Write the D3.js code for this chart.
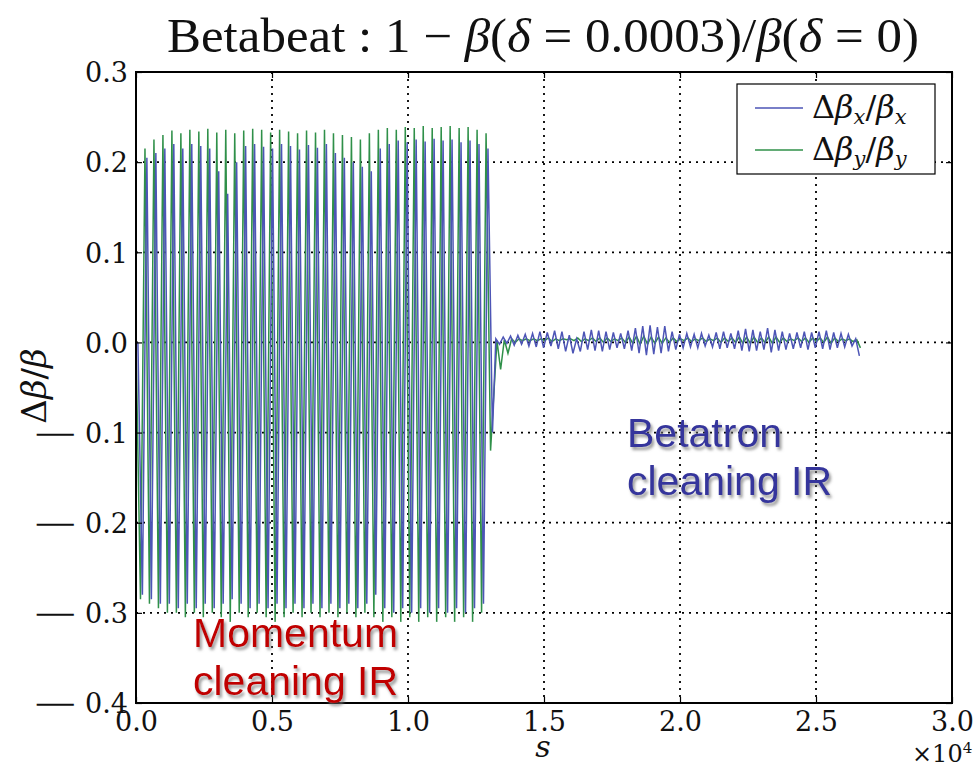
<!DOCTYPE html>
<html>
<head>
<meta charset="utf-8">
<script src="https://cdn.jsdelivr.net/npm/d3@7"></script>
<style>
  body { margin: 0; background: #fff; }
</style>
</head>
<body>
<script>
/*
  Betabeat plot
  -------------
  Two series (x and y plane), sampled at their extremes.
  Momentum region: big oscillation, betatron region: small wiggles.
*/

// axis ticks
var xTicks = [0, 5000, 10000, 15000, 20000, 25000, 30000];
var yTicks = [0.3, 0.2, 0.1, 0.0, -0.1, -0.2, -0.3, -0.4];

// sample grid of the momentum region (s start, step) and of the betatron region
var bigStart = 0, bigStep = 165, blueShift = 70;
var smallStart = 13230, smallStep = 135;

// delta beta_x / beta_x, momentum region (peaks and troughs)
var blueBig = [
  0.0, -0.28, 0.205, -0.285, 0.21, -0.29, 0.215, -0.29, 0.22, -0.295,
  0.215, -0.29, 0.22, -0.295, 0.218, -0.29, 0.215, -0.295, 0.19, -0.29,
  0.165, -0.285, 0.20, -0.29, 0.218, -0.295, 0.22, -0.29, 0.217, -0.295,
  0.215, -0.29, 0.22, -0.295, 0.218, -0.29, 0.214, -0.295, 0.219, -0.29,
  0.216, -0.295, 0.22, -0.29, 0.21, -0.295, 0.205, -0.29, 0.20, -0.295,
  0.195, -0.29, 0.19, -0.28, 0.215, -0.295, 0.22, -0.30, 0.224, -0.295,
  0.222, -0.30, 0.225, -0.295, 0.223, -0.30, 0.226, -0.295, 0.224, -0.30,
  0.225, -0.295, 0.222, -0.30, 0.224, -0.295, 0.22, -0.29, 0.215, -0.10
];

// delta beta_y / beta_y, momentum region
var greenBig = [
  0.0, -0.285, 0.215, -0.29, 0.225, -0.295, 0.23, -0.30, 0.235, -0.30,
  0.232, -0.305, 0.236, -0.30, 0.234, -0.305, 0.237, -0.30, 0.233, -0.305,
  0.236, -0.31, 0.232, -0.30, 0.235, -0.305, 0.237, -0.30, 0.236, -0.305,
  0.233, -0.31, 0.236, -0.305, 0.234, -0.30, 0.232, -0.305, 0.235, -0.30,
  0.233, -0.305, 0.236, -0.30, 0.232, -0.305, 0.230, -0.30, 0.228, -0.305,
  0.225, -0.30, 0.232, -0.305, 0.236, -0.31, 0.238, -0.305, 0.236, -0.31,
  0.239, -0.305, 0.238, -0.31, 0.240, -0.305, 0.238, -0.31, 0.239, -0.305,
  0.240, -0.31, 0.238, -0.305, 0.239, -0.31, 0.236, -0.30, 0.232, -0.12
];

// betatron region, small wiggles
var blueSmall = [
  0.004, -0.002, 0.006, -0.001, 0.007, -0.003, 0.008, -0.002, 0.009, -0.004,
  0.010, -0.005, 0.012, -0.006, 0.011, -0.004, 0.013, -0.007, 0.012, -0.010,
  0.008, -0.012, 0.004, -0.010, 0.012, -0.008, 0.014, -0.009, 0.013, -0.010,
  0.012, -0.008, 0.011, -0.006, 0.010, -0.007, 0.013, -0.009, 0.016, -0.012,
  0.018, -0.014, 0.019, -0.013, 0.017, -0.012, 0.018, -0.010, 0.012, -0.008,
  0.009, -0.006, 0.010, -0.005, 0.009, -0.006, 0.010, -0.004, 0.008, -0.005,
  0.011, -0.007, 0.012, -0.006, 0.010, -0.007, 0.013, -0.009, 0.015, -0.010,
  0.014, -0.009, 0.012, -0.008, 0.016, -0.011, 0.014, -0.009, 0.012, -0.008,
  0.010, -0.007, 0.011, -0.006, 0.012, -0.008, 0.011, -0.006, 0.012, -0.007,
  0.013, -0.008, 0.011, -0.006, 0.010, -0.005, 0.009, -0.004, 0.004, -0.015
];

var greenSmall = [
  0.002, -0.030, 0.003, -0.012, 0.004, 0.000, 0.004, 0.002, 0.004, 0.002,
  0.004, 0.002, 0.004, 0.002, 0.005, 0.001, 0.004, 0.002, 0.004, 0.003,
  0.004, 0.002, 0.005, 0.001, 0.004, 0.002, 0.005, 0.001, 0.005, 0.000,
  0.005, 0.001, 0.004, 0.002, 0.005, 0.000, 0.006, -0.001, 0.007, -0.002,
  0.007, -0.002, 0.006, -0.001, 0.006, -0.001, 0.005, 0.000, 0.005, 0.001,
  0.004, 0.002, 0.005, 0.001, 0.004, 0.002, 0.005, 0.001, 0.004, 0.002,
  0.005, 0.000, 0.005, 0.001, 0.005, 0.000, 0.006, -0.001, 0.006, -0.001,
  0.006, 0.000, 0.005, 0.000, 0.006, -0.001, 0.006, 0.000, 0.005, 0.001,
  0.004, 0.002, 0.005, 0.001, 0.005, 0.000, 0.005, 0.001, 0.005, 0.000,
  0.006, -0.001, 0.005, 0.001, 0.004, 0.002, 0.004, 0.001, 0.003, -0.006
];

/*
  SVG Setup
  ---------
*/
var width = 978, height = 768;
var margin = { top: 72, right: 26, bottom: 65, left: 136 };
var plotW = width - margin.left - margin.right;
var plotH = height - margin.top - margin.bottom;

var blue = "#4d55b6";
var green = "#2f9049";
var serif = "DejaVu Serif, serif";

var svg = d3.select("body").append("svg")
  .attr("width", width)
  .attr("height", height);

var defs = svg.append("defs");
var shadow = defs.append("filter").attr("id", "shadow")
  .attr("x", "-10%").attr("y", "-20%").attr("width", "130%").attr("height", "150%");
shadow.append("feDropShadow")
  .attr("dx", 2).attr("dy", 3).attr("stdDeviation", 1.6)
  .attr("flood-color", "#777").attr("flood-opacity", 0.75);
defs.append("clipPath").attr("id", "clip")
  .append("rect").attr("width", plotW).attr("height", plotH);

var g = svg.append("g")
  .attr("transform", "translate(" + margin.left + "," + margin.top + ")");

var x = d3.scaleLinear().domain([0, 30000]).range([0, plotW]);
var y = d3.scaleLinear().domain([-0.4, 0.3]).range([plotH, 0]);

// Grid (dotted)
g.append("g").selectAll("line").data(xTicks.slice(1, -1)).enter().append("line")
  .attr("x1", function (d) { return x(d); }).attr("x2", function (d) { return x(d); })
  .attr("y1", 0).attr("y2", plotH)
  .attr("stroke", "#000").attr("stroke-width", 1.8).attr("stroke-dasharray", "2,5");
g.append("g").selectAll("line").data(yTicks.slice(1, -1)).enter().append("line")
  .attr("x1", 0).attr("x2", plotW)
  .attr("y1", function (d) { return y(d); }).attr("y2", function (d) { return y(d); })
  .attr("stroke", "#000").attr("stroke-width", 1.8).attr("stroke-dasharray", "2,5");

// Series
function toPoints(vals, start, step) {
  return vals.map(function (v, i) { return { s: start + i * step, v: v }; });
}
var blueData = toPoints(blueBig, bigStart + blueShift, bigStep)
  .concat(toPoints(blueSmall, smallStart, smallStep));
var greenData = toPoints(greenBig, bigStart, bigStep)
  .concat(toPoints(greenSmall, smallStart + 40, smallStep));

var line = d3.line()
  .x(function (d) { return x(d.s); })
  .y(function (d) { return y(d.v); });

var lines = g.append("g").attr("clip-path", "url(#clip)");
lines.append("path").datum(greenData)
  .attr("d", line).attr("fill", "none")
  .attr("stroke", green).attr("stroke-width", 1.5);
lines.append("path").datum(blueData)
  .attr("d", line).attr("fill", "none")
  .attr("stroke", blue).attr("stroke-width", 1.5);

// Axes, ticks point inward
var fmtX = function (d) { return (d / 10000).toFixed(1); };

var gX = g.append("g").attr("transform", "translate(0," + plotH + ")")
  .call(d3.axisBottom(x).tickValues(xTicks).tickSize(-6).tickPadding(9).tickFormat(fmtX));
var gY = g.append("g")
  .call(d3.axisLeft(y).tickValues(yTicks).tickSize(-6).tickPadding(8)
    .tickFormat(function (d) { return Math.abs(d).toFixed(1); }));
g.append("g").call(d3.axisTop(x).tickValues(xTicks).tickSize(-6).tickFormat(""));
g.append("g").attr("transform", "translate(" + plotW + ",0)")
  .call(d3.axisRight(y).tickValues(yTicks).tickSize(-6).tickFormat(""));

g.selectAll(".domain").remove();
g.selectAll(".tick line").attr("stroke", "#000").attr("stroke-width", 1.2);
gX.selectAll("text").attr("font-family", serif).attr("font-size", 27)
  .attr("fill", "#111").attr("dy", "0.72em");
gY.selectAll(".tick text").attr("font-family", serif).attr("font-size", 27)
  .attr("fill", "#111").attr("dy", "0.36em");

// long TeX-like minus in front of the negative y labels (stretched glyph)
gY.selectAll(".tick").filter(function (d) { return d < 0; }).each(function () {
  var tick = d3.select(this);
  var numW = tick.select("text").node().getComputedTextLength();
  var xEnd = -8 - numW - 5;
  tick.append("text")
    .attr("transform", "translate(" + xEnd + ",0) scale(2.2,1)")
    .attr("text-anchor", "end")
    .attr("dy", "0.36em")
    .attr("font-family", serif).attr("font-size", 27)
    .attr("fill", "#111")
    .text("\u2212");
});

// frame
g.append("rect").attr("width", plotW).attr("height", plotH)
  .attr("fill", "none").attr("stroke", "#000").attr("stroke-width", 2);

// Title
var title = svg.append("text")
  .attr("x", 543).attr("y", 52)
  .attr("text-anchor", "middle")
  .attr("font-family", "Liberation Serif, serif")
  .attr("font-size", 48)
  .attr("textLength", 752)
  .attr("lengthAdjust", "spacingAndGlyphs")
  .attr("fill", "#111");
title.append("tspan").text("Betabeat : 1 \u2212 ");
title.append("tspan").attr("font-style", "italic").text("\u03B2");
title.append("tspan").text("(");
title.append("tspan").attr("font-style", "italic").text("\u03B4");
title.append("tspan").text(" = 0.0003)/");
title.append("tspan").attr("font-style", "italic").text("\u03B2");
title.append("tspan").text("(");
title.append("tspan").attr("font-style", "italic").text("\u03B4");
title.append("tspan").text(" = 0)");

// Y axis label
var yl = svg.append("text")
  .attr("transform", "translate(46,386) rotate(-90)")
  .attr("text-anchor", "middle")
  .attr("font-family", serif)
  .attr("font-size", 34)
  .attr("fill", "#111");
yl.append("tspan").text("\u0394");
yl.append("tspan").attr("font-style", "italic").text("\u03B2");
yl.append("tspan").text("/");
yl.append("tspan").attr("font-style", "italic").text("\u03B2");

// X axis label and offset
svg.append("text")
  .attr("x", 543).attr("y", 757)
  .attr("text-anchor", "middle")
  .attr("font-family", serif)
  .attr("font-style", "italic")
  .attr("font-size", 30)
  .attr("fill", "#111")
  .text("s");
var off = svg.append("text")
  .attr("x", 912).attr("y", 762)
  .attr("font-family", serif)
  .attr("font-size", 24)
  .attr("fill", "#111");
off.append("tspan").text("\u00D710");
off.append("tspan").attr("font-size", 15).attr("dy", -9).text("4");

// Legend
var legend = svg.append("g").attr("transform", "translate(737,84)");
legend.append("rect").attr("width", 198).attr("height", 90)
  .attr("fill", "#fff").attr("stroke", "#000").attr("stroke-width", 1.2);
var items = [
  { color: blue, sub: "x", yy: 24 },
  { color: green, sub: "y", yy: 66 }
];
items.forEach(function (it) {
  legend.append("line")
    .attr("x1", 18).attr("x2", 66).attr("y1", it.yy).attr("y2", it.yy)
    .attr("stroke", it.color).attr("stroke-width", 1.5);
  var t = legend.append("text")
    .attr("x", 75).attr("y", it.yy + 10)
    .attr("font-family", serif)
    .attr("font-size", 32)
    .attr("fill", "#111");
  t.append("tspan").text("\u0394");
  t.append("tspan").attr("font-style", "italic").text("\u03B2");
  t.append("tspan").attr("font-style", "italic").attr("font-size", 21).attr("dy", 6).text(it.sub);
  t.append("tspan").attr("dy", -6).text("/");
  t.append("tspan").attr("font-style", "italic").text("\u03B2");
  t.append("tspan").attr("font-style", "italic").attr("font-size", 21).attr("dy", 6).text(it.sub);
});

// Annotations
function note(rows, xx, yy, color) {
  var t = svg.append("text")
    .attr("font-family", "Liberation Sans, Arial, sans-serif")
    .attr("font-size", 41)
    .attr("fill", color)
    .attr("filter", "url(#shadow)");
  rows.forEach(function (s, i) {
    t.append("tspan").attr("x", xx).attr("y", yy + i * 48).text(s);
  });
}
note(["Momentum", "cleaning IR"], 193, 647, "#c00000");
note(["Betatron", "cleaning IR"], 627, 447, "#35359c");
</script>
</body>
</html>
